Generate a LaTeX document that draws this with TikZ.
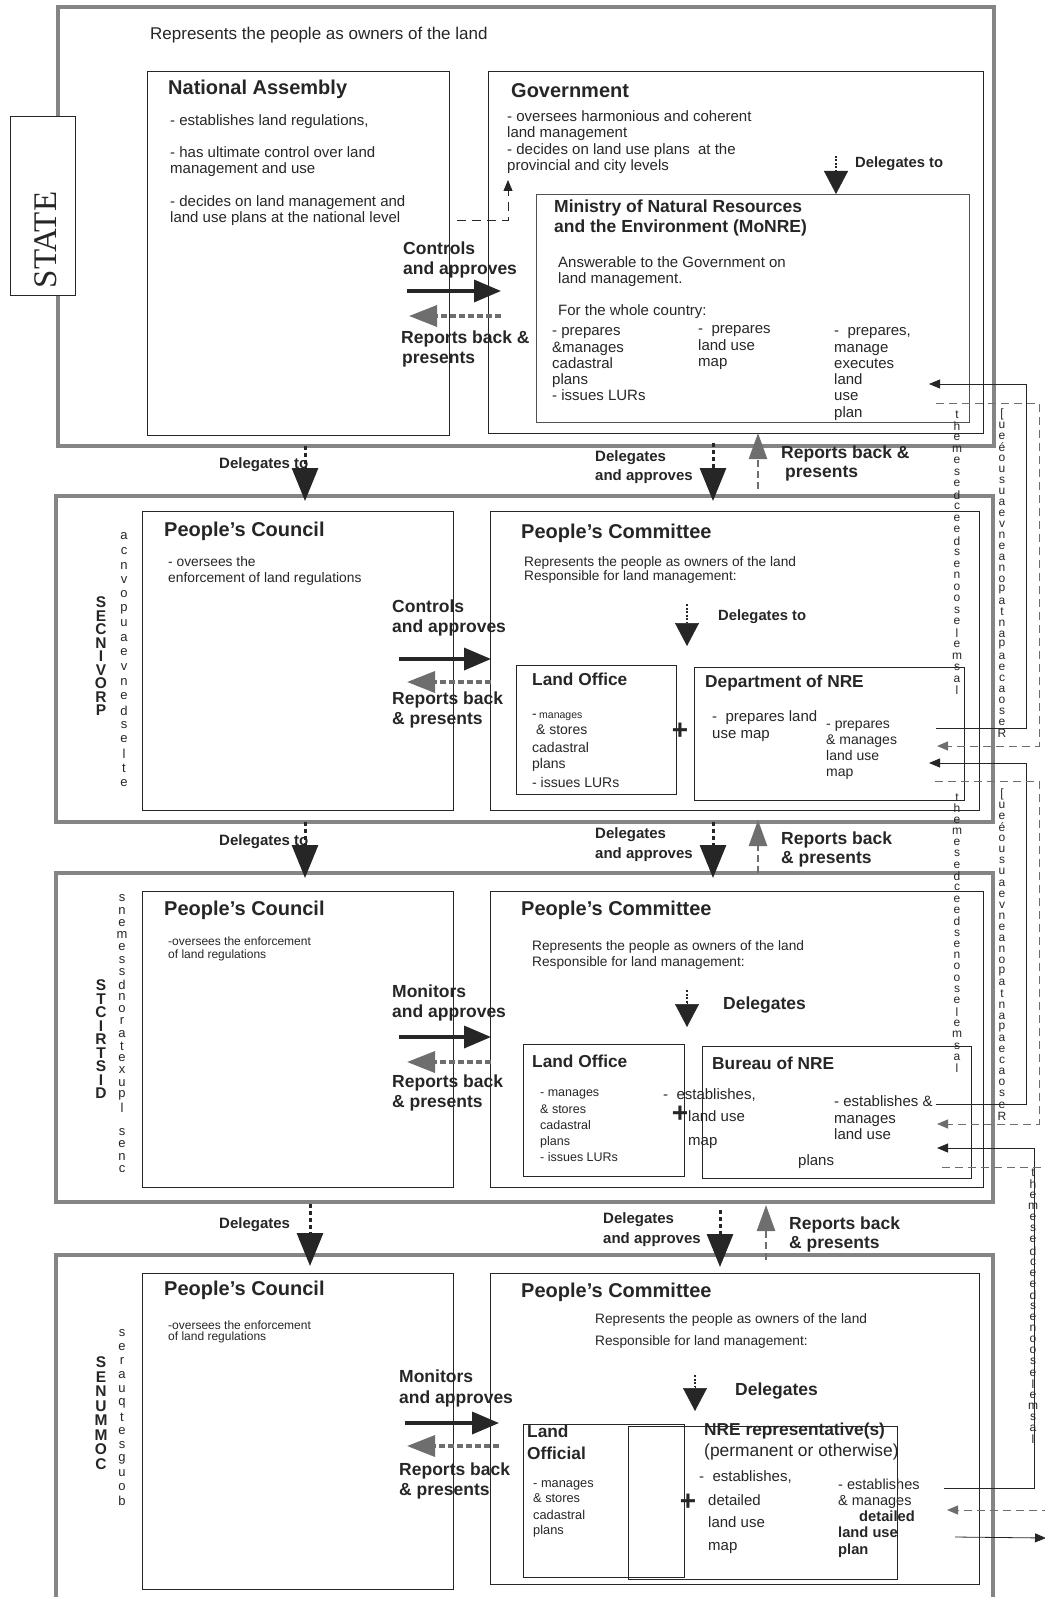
\documentclass[tikz,border=0pt]{standalone}
\usepackage{fontspec}
\setmainfont{Liberation Sans}
\newfontfamily\statefont{Liberation Serif}
\usetikzlibrary{arrows.meta}

\definecolor{ink}{HTML}{262626}
\definecolor{framegray}{HTML}{858585}
\definecolor{repgray}{HTML}{6E6E6E}
\newcommand{\fsz}[2]{\fontsize{#1}{#2}\selectfont}

\begin{document}
\begin{tikzpicture}[x=1pt, y=-1pt,
	frame/.style={draw=framegray, line width=3.5pt},
	box/.style={draw=ink, line width=0.8pt},
	txt/.style={anchor=north west, inner sep=0pt, align=left, text=ink, execute at begin node=\strut},
	body/.style={txt, font=\fsz{15}{16.3}},
	small/.style={txt, font=\fsz{14}{16}},
	lbl/.style={txt, font=\fsz{17.5}{20}\bfseries},
	ttl/.style={anchor=west, inner sep=0pt, text=ink, font=\fsz{20}{22}\bfseries},
	sub/.style={anchor=west, inner sep=0pt, text=ink, font=\fsz{17.3}{20}\bfseries},
	one/.style={anchor=west, inner sep=0pt, text=ink, font=\fsz{15}{16}},
	stack/.style={inner sep=0pt, text=ink, font=\fsz{13}{13}},
	rstack/.style={inner sep=0pt, text=ink, font=\fsz{12}{12}},
	bigstack/.style={inner sep=0pt, text=ink, font=\fsz{15.5}{16}\bfseries},
	plussign/.style={inner sep=0pt, text=ink, font=\fsz{28}{28}\bfseries},
	ctrlarrow/.style={draw=ink, line width=3.5pt, -{Triangle[length=27pt,width=22pt]}},
	reparrow/.style={draw=repgray, line width=3.5pt, dash pattern=on 6pt off 3pt, -{Triangle[length=28pt,width=21pt]}},
	delegarrow/.style={draw=ink, line width=3pt, dash pattern=on 4pt off 3pt, -{Triangle[length=33pt,width=26pt]}},
	reportsup/.style={draw=repgray, line width=2.5pt, dash pattern=on 7pt off 4pt, -{Triangle[length=26pt,width=18pt]}},
	stub/.style={draw=ink, line width=1.5pt, dash pattern=on 2pt off 1.5pt},
	bighead/.style={draw=ink, line width=0.5pt, -{Triangle[length=23pt,width=24pt]}},
	link/.style={draw=ink, line width=0.8pt, -{Triangle[length=11pt,width=9pt]}},
	dlink/.style={draw=repgray, line width=1pt, dash pattern=on 8pt off 5pt, -{Triangle[length=11pt,width=9pt]}},
	dplain/.style={draw=repgray, line width=1pt, dash pattern=on 8pt off 5pt}
]
	\useasboundingbox (0,0) rectangle (1044,1597);

	% frames of the four levels
	\draw[frame] (58,7) rectangle (994,446);
	\draw[frame] (56,496) rectangle (993,822);
	\draw[frame] (56,873) rectangle (993,1202);
	\draw[frame] (56,1610) -- (56,1255) -- (993,1255) -- (993,1610);

	% STATE
	\filldraw[draw=ink, fill=white, line width=1pt] (10,117) rectangle (75,295);
	\node[rotate=90, inner sep=0pt, text=ink, font=\statefont\fsz{33}{34}] (state) at (46,240) {STATE};
	\node[anchor=west, inner sep=0pt, text=ink, font=\fsz{17}{18}] (state-txt) at (150,35) {Represents the people as owners of the land};

	\draw[box] (147,71) rectangle (449,435);
	\node[ttl] (na-title) at (168,89) {National Assembly};
	\node[body] (na-1) at (170,113.5) {- establishes land regulations,};
	\node[body] (na-2) at (170,146.5) {- has ultimate control over land\\management and use};
	\node[body] (na-3) at (170,195.5) {- decides on land management and\\land use plans at the national level};

	\draw[box] (488,71) rectangle (983,433);
	\node[ttl] (gov-title) at (511,91) {Government};
	\node[body, font=\fsz{15}{16.4}] (gov-txt) at (507,110.5) {- oversees harmonious and coherent\\land management\\- decides on land use plans\ \ at the\\provincial and city levels};

	\coordinate (na-out) at (457,220);
	\coordinate (gov-in) at (508,180);
	\draw[link, dash pattern=on 9pt off 6pt] (na-out) -- (gov-in |- na-out) -- (gov-in);

	\coordinate (gov-d1) at (836,156);
	\coordinate (gov-d2) at (836,171);
	\coordinate (mo-top) at (836,194);
	\draw[stub] (gov-d1) -- (gov-d2);
	\draw[bighead] (gov-d2) -- (mo-top);
	\node[anchor=west, inner sep=0pt, text=ink, font=\fsz{14.8}{16}\bfseries] (gov-deleg) at (855,164) {Delegates to};

	\draw[box, draw=ink!80] (536,194) rectangle (969,422);
	\node[txt, font=\fsz{17.5}{20}\bfseries] (mo-title) at (554,200) {Ministry of Natural Resources\\and the Environment (MoNRE)};
	\node[body] (mo-1) at (558,256.5) {Answerable to the Government on\\land management.};
	\node[body] (mo-2) at (558,303.5) {For the whole country:};
	\node[body] (mo-c1) at (552,327.5) {- prepares\\\&manages\\cadastral\\plans\\- issues LURs};
	\node[body] (mo-c2) at (698,325.5) {-\ \ prepares\\land use\\map};
	\node[body] (mo-c3) at (834,327.5) {-\ \ prepares,\\manage\\executes\\land\\use\\plan};

	\coordinate (na-c1) at (407,291);
	\coordinate (gov-c1) at (501,291);
	\coordinate (gov-r1) at (501,316);
	\coordinate (na-r1) at (409,316);
	\draw[ctrlarrow] (na-c1) -- (gov-c1);
	\draw[reparrow] (gov-r1) -- (na-r1);
	\node[lbl] (l1-ctrl) at (403,241.6) {Controls\\and approves};
	\node[lbl] (l1-rep) at (401,330.6) {Reports back \&\\\hspace*{1pt}presents};

	% state -> provinces
	\coordinate (d12a-s) at (305,446);
	\coordinate (d12a-e) at (305,501);
	\coordinate (d12b-s) at (713,443);
	\coordinate (d12b-e) at (713,501);
	\coordinate (u12-s) at (758,489);
	\coordinate (u12-e) at (758,433);
	\draw[delegarrow] (d12a-s) -- (d12a-e);
	\draw[delegarrow] (d12b-s) -- (d12b-e);
	\draw[reportsup] (u12-s) -- (u12-e);
	\node[anchor=west, inner sep=0pt, text=ink, font=\fsz{15}{19}\bfseries] (d12-a) at (219,465) {Delegates to};
	\node[txt, font=\fsz{15}{19}\bfseries] (d12-b) at (595,450) {Delegates\\and approves};
	\node[lbl, font=\fsz{17.5}{19.5}\bfseries] (d12-c) at (781,445.6) {Reports back \&\\\hspace*{4pt}presents};

	% provinces
	\foreach \c [count=\i] in {S,E,C,N,I,V,O,R,P}
		\node[bigstack] (prov-\i) at (101,589+13.5*\i) {\c};
	\foreach \c [count=\i] in {a,c,n,v,o,p,u,a,e,v,n,e,d,s,e,l,t,e}
		\node[stack] (prov-s\i) at (124,522+14.5*\i) {\c};

	\draw[box] (142,511) rectangle (453,810);
	\node[ttl] (pc2-title) at (164,531) {People’s Council};
	\node[txt, font=\fsz{13.8}{16}] (pc2-txt) at (168,556.4) {- oversees the\\enforcement of land regulations};

	\draw[box] (490,511) rectangle (979,810);
	\node[ttl] (pcm2-title) at (521,533) {People’s Committee};
	\node[txt, font=\fsz{13.7}{14.5}] (pcm2-txt) at (524,556.2) {Represents the people as owners of the land\\Responsible for land management:};

	\coordinate (pcm2-d1) at (687,604);
	\coordinate (pcm2-d2) at (687,622);
	\coordinate (pcm2-d3) at (687,646);
	\draw[stub] (pcm2-d1) -- (pcm2-d2);
	\draw[bighead] (pcm2-d2) -- (pcm2-d3);
	\node[anchor=west, inner sep=0pt, text=ink, font=\fsz{14.8}{16}\bfseries] (pcm2-deleg) at (718,617) {Delegates to};

	\coordinate (pc2-c) at (399,659);
	\coordinate (pcm2-c) at (491,659);
	\coordinate (pcm2-r) at (491,682);
	\coordinate (pc2-r) at (407,682);
	\draw[ctrlarrow] (pc2-c) -- (pcm2-c);
	\draw[reparrow] (pcm2-r) -- (pc2-r);
	\node[lbl] (l2-ctrl) at (392,599.6) {Controls\\and approves};
	\node[lbl] (l2-rep) at (392,691.6) {Reports back\\\& presents};

	\draw[box] (516,665) rectangle (676,794);
	\node[sub] (lo2-title) at (532,679) {Land Office};
	\node[small] (lo2-txt) at (532,712.4) {-\,{\fsz{10.5}{12}manages}\\\ \& stores\\[2pt]cadastral\\plans\\[3pt]- issues LURs};
	\node[plussign] (plus2) at (680,731) {+};

	\draw[box] (694,667) rectangle (964,800);
	\node[sub] (dn2-title) at (705,683) {Department of NRE};
	\node[body, font=\fsz{15}{17}] (dn2-a) at (712,710.5) {-\ \ prepares land\\use map};
	\node[small] (dn2-b) at (826,720.3) {- prepares\\\& manages\\land use\\map};

	% provinces -> districts
	\coordinate (d23a-s) at (305,822);
	\coordinate (d23a-e) at (305,878);
	\coordinate (d23b-s) at (713,822);
	\coordinate (d23b-e) at (713,878);
	\coordinate (u23-s) at (758,873);
	\coordinate (u23-e) at (758,820);
	\draw[delegarrow] (d23a-s) -- (d23a-e);
	\draw[delegarrow] (d23b-s) -- (d23b-e);
	\draw[reportsup] (u23-s) -- (u23-e);
	\node[anchor=west, inner sep=0pt, text=ink, font=\fsz{15}{19}\bfseries] (d23-a) at (219,842) {Delegates to};
	\node[txt, font=\fsz{15}{20}\bfseries] (d23-b) at (595,827) {Delegates\\and approves};
	\node[lbl, font=\fsz{17.5}{19.5}\bfseries] (d23-c) at (781,831.6) {Reports back\\\& presents};

	% districts
	\foreach \c [count=\i] in {S,T,C,I,R,T,S,I,D}
		\node[bigstack] (dist-\i) at (101,972+13.5*\i) {\c};
	\foreach \c [count=\i] in {s,n,e,m,e,s,s,d,n,o,r,a,t,e,x,u,p,l,,s,e,n,c}
		\node[stack] (dist-s\i) at (122,886+12.3*\i) {\c};

	\draw[box] (142,891) rectangle (453,1187);
	\node[ttl] (pc3-title) at (164,910) {People’s Council};
	\node[txt, font=\fsz{12}{13}] (pc3-txt) at (168,936.7) {-oversees the enforcement\\of land regulations};

	\draw[box] (490,891) rectangle (983,1187);
	\node[ttl] (pcm3-title) at (521,910) {People’s Committee};
	\node[txt, font=\fsz{13.7}{16}] (pcm3-txt) at (532,940.2) {Represents the people as owners of the land\\Responsible for land management:};

	\coordinate (pcm3-d1) at (687,990);
	\coordinate (pcm3-d2) at (687,1003);
	\coordinate (pcm3-d3) at (687,1027);
	\draw[stub] (pcm3-d1) -- (pcm3-d2);
	\draw[bighead] (pcm3-d2) -- (pcm3-d3);
	\node[anchor=west, inner sep=0pt, text=ink, font=\fsz{17.5}{20}\bfseries] (pcm3-deleg) at (723,1005) {Delegates};

	\coordinate (pc3-c) at (399,1037);
	\coordinate (pcm3-c) at (491,1037);
	\coordinate (pcm3-r) at (491,1062);
	\coordinate (pc3-r) at (407,1062);
	\draw[ctrlarrow] (pc3-c) -- (pcm3-c);
	\draw[reparrow] (pcm3-r) -- (pc3-r);
	\node[lbl] (l3-ctrl) at (392,984.6) {Monitors\\and approves};
	\node[lbl] (l3-rep) at (392,1074.6) {Reports back\\\& presents};

	\draw[box] (523,1044) rectangle (684,1176);
	\node[sub] (lo3-title) at (532,1061) {Land Office};
	\node[txt, font=\fsz{12.5}{16.3}] (lo3-txt) at (540,1089.8) {- manages\\\& stores\\cadastral\\plans\\- issues LURs};

	\draw[box] (702,1046) rectangle (971,1178);
	\node[sub] (bu3-title) at (712,1063) {Bureau of NRE};
	\node[one] (bu3-a) at (663,1095) {-\ \ establishes,};
	\node[plussign] (plus3) at (680,1114) {+};
	\node[body, font=\fsz{15}{24}] (bu3-b) at (688,1110) {land use\\map};
	\node[body, font=\fsz{15}{16.5}] (bu3-c) at (834,1095.5) {- establishes \&\\manages\\land use};
	\node[one] (bu3-d) at (798,1162) {plans};

	% districts -> communes
	\coordinate (d34a-s) at (310,1204);
	\coordinate (d34a-e) at (310,1266);
	\coordinate (d34b-s) at (720,1210);
	\coordinate (d34b-e) at (720,1267);
	\coordinate (u34-s) at (766,1260);
	\coordinate (u34-e) at (766,1205);
	\draw[delegarrow] (d34a-s) -- (d34a-e);
	\draw[delegarrow] (d34b-s) -- (d34b-e);
	\draw[reportsup] (u34-s) -- (u34-e);
	\node[anchor=west, inner sep=0pt, text=ink, font=\fsz{15}{19}\bfseries] (d34-a) at (219,1225) {Delegates};
	\node[txt, font=\fsz{15}{20}\bfseries] (d34-b) at (603,1212) {Delegates\\and approves};
	\node[lbl, font=\fsz{17.5}{19.5}\bfseries] (d34-c) at (789,1216.6) {Reports back\\\& presents};

	% communes
	\foreach \c [count=\i] in {S,E,N,U,M,M,O,C}
		\node[bigstack] (comm-\i) at (101,1348+14.5*\i) {\c};
	\foreach \c [count=\i] in {s,e,r,a,u,q,t,e,s,g,u,o,b}
		\node[stack] (comm-s\i) at (122,1319+14*\i) {\c};

	\draw[box] (142,1273) rectangle (453,1589);
	\node[ttl] (pc4-title) at (164,1290) {People’s Council};
	\node[txt, font=\fsz{12}{11.5}] (pc4-txt) at (168,1320.5) {-oversees the enforcement\\of land regulations};

	\draw[box] (490,1273) rectangle (979,1584);
	\node[ttl] (pcm4-title) at (521,1292) {People’s Committee};
	\node[txt, font=\fsz{13.7}{22}] (pcm4-txt) at (595,1313) {Represents the people as owners of the land\\Responsible for land management:};

	\coordinate (pcm4-d1) at (695,1375);
	\coordinate (pcm4-d2) at (695,1387);
	\coordinate (pcm4-d3) at (695,1411);
	\draw[stub] (pcm4-d1) -- (pcm4-d2);
	\draw[bighead] (pcm4-d2) -- (pcm4-d3);
	\node[anchor=west, inner sep=0pt, text=ink, font=\fsz{17.5}{20}\bfseries] (pcm4-deleg) at (735,1391) {Delegates};

	\coordinate (pc4-c) at (405,1423);
	\coordinate (pcm4-c) at (499,1423);
	\coordinate (pcm4-r) at (499,1446);
	\coordinate (pc4-r) at (407,1446);
	\draw[ctrlarrow] (pc4-c) -- (pcm4-c);
	\draw[reparrow] (pcm4-r) -- (pc4-r);
	\node[lbl, font=\fsz{17.5}{21}\bfseries] (l4-ctrl) at (399,1370) {Monitors\\and approves};
	\node[lbl] (l4-rep) at (399,1462.6) {Reports back\\\& presents};

	\draw[box] (523,1424) rectangle (684,1577);
	\draw[box] (628,1426) rectangle (897,1579);
	\node[txt, font=\fsz{17.3}{22}\bfseries] (lo4-title) at (527,1424.6) {Land\\Official};
	\node[txt, font=\fsz{12.8}{15}] (lo4-txt) at (533,1480.7) {- manages\\\& stores\\[2pt]cadastral\\plans};
	\node[sub] (nr4-title) at (704,1431) {NRE representative(s)};
	\node[anchor=west, inner sep=0pt, text=ink, font=\fsz{17.4}{20}] (nr4-sub) at (704,1452) {(permanent or otherwise)};
	\node[one] (nr4-a) at (699,1477) {-\ \ establishes,};
	\node[plussign] (plus4) at (688,1502) {+};
	\node[body, font=\fsz{15}{22.5}] (nr4-b) at (708,1494) {detailed\\land use\\map};
	\node[txt, font=\fsz{14.5}{16}] (nr4-c) at (838,1478.3) {- establishes\\\& manages};
	\node[body, font=\fsz{14.7}{16.5}\bfseries] (nr4-d) at (838,1510.4) {\hspace*{21pt}detailed\\land use\\plan};

	% links on the right
	\coordinate (dn2-out) at (936,728);
	\coordinate (mo-in) at (929,384);
	\draw[link] (dn2-out) -- (1026,728) -- (1026,384) -- (mo-in);
	\coordinate (mo-out) at (936,403);
	\coordinate (dn2-in) at (937,746);
	\draw[dlink] (mo-out) -- (1039,403) -- (1039,746) -- (dn2-in);

	\coordinate (bu3-out) at (936,1104);
	\coordinate (dn2-in2) at (929,763);
	\draw[link] (bu3-out) -- (1026,1104) -- (1026,763) -- (dn2-in2);
	\coordinate (dn2-out2) at (935,781);
	\coordinate (bu3-in) at (937,1124);
	\draw[dlink] (dn2-out2) -- (1039,781) -- (1039,1124) -- (bu3-in);

	\coordinate (nr4-out) at (944,1488);
	\coordinate (bu3-in2) at (937,1148);
	\draw[link] (nr4-out) -- (1034,1488) -- (1034,1148) -- (bu3-in2);
	\coordinate (bu3-out2) at (942,1167);
	\draw[dplain] (bu3-out2) -- (1050,1167);
	\coordinate (nr4-in) at (947,1510);
	\draw[dlink] (1050,1510) -- (nr4-in);
	\coordinate (nr4-out2) at (955,1537);
	\draw[link] (nr4-out2) -- (1046,1538);

	% stacked letters along the links
	\foreach \c [count=\i] in {t,h,e,m,e,s,e,d,c,e,e,d,s,e,n,o,o,s,e,l,e,m,s,a,l}
		\node[rstack] (ra-\i) at (957,403+11.5*\i) {\c};
	\foreach \c [count=\i] in {[,u,e,é,o,u,s,u,a,e,v,n,e,a,n,o,p,a,t,n,a,p,a,e,c,a,o,s,e,R}
		\node[rstack] (rb-\i) at (1002,403+11*\i) {\c};
	\foreach \c [count=\i] in {t,h,e,m,e,s,e,d,c,e,e,d,s,e,n,o,o,s,e,l,e,m,s,a,l}
		\node[rstack] (rc-\i) at (957,786+11.3*\i) {\c};
	\foreach \c [count=\i] in {[,u,e,é,o,u,s,u,a,e,v,n,e,a,n,o,p,a,t,n,a,p,a,e,c,a,o,s,e,R}
		\node[rstack] (rd-\i) at (1002,783+11.1*\i) {\c};
	\foreach \c [count=\i] in {t,h,e,m,e,s,e,d,c,e,e,d,s,e,n,o,o,s,e,l,e,m,s,a,l}
		\node[rstack] (re-\i) at (1033,1162+11.1*\i) {\c};

\end{tikzpicture}
\end{document}
